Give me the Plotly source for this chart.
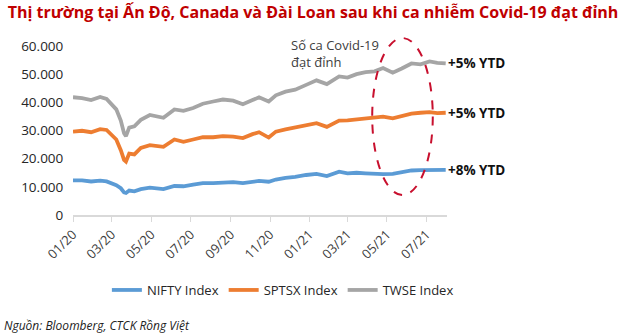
import plotly.graph_objects as go

dates = [
    "2020-01-01", "2020-01-15", "2020-01-29", "2020-02-12", "2020-02-22",
    "2020-03-01", "2020-03-08", "2020-03-15", "2020-03-20", "2020-03-23",
    "2020-03-28", "2020-04-05", "2020-04-15", "2020-04-29", "2020-05-10",
    "2020-05-20", "2020-06-06", "2020-06-20", "2020-07-05", "2020-07-20",
    "2020-08-05", "2020-08-20", "2020-09-05", "2020-09-20", "2020-10-05",
    "2020-10-15", "2020-10-30", "2020-11-10", "2020-11-25", "2020-12-10",
    "2020-12-27", "2021-01-12", "2021-01-28", "2021-02-16", "2021-03-01",
    "2021-03-15", "2021-03-29", "2021-04-12", "2021-04-25", "2021-05-10",
    "2021-05-24", "2021-06-08", "2021-06-22", "2021-07-06", "2021-07-18",
    "2021-07-31",
]
twse = [
    41800, 41500, 40800, 41900, 41200, 39000, 37500, 33500, 29000, 28000,
    31000, 31500, 33800, 35500, 35000, 34500, 37500, 37000, 38000, 39500,
    40300, 41000, 40600, 39300, 40800, 41800, 40300, 42500, 43800, 44500,
    46200, 47800, 46500, 49200, 48800, 50000, 50700, 51000, 52200, 50500,
    52000, 53800, 53500, 54500, 54000, 53800,
]
sptsx = [
    29600, 29900, 29400, 30500, 30200, 28500, 26800, 23000, 19600, 19000,
    21800, 21500, 23800, 24800, 24600, 24200, 26800, 26000, 26800, 27600,
    27600, 28000, 27800, 27300, 28700, 29400, 27500, 29600, 30400, 31000,
    32000, 32600, 31300, 33500, 33600, 34000, 34400, 34800, 34900, 34300,
    35000, 36000, 36300, 36500, 36200, 36300,
]
nifty = [
    12300, 12300, 11900, 12200, 11900, 11200, 10600, 9500, 8000, 7800,
    8700, 8400, 9200, 9700, 9400, 9200, 10300, 10200, 10800, 11300,
    11300, 11600, 11700, 11300, 11900, 12100, 11800, 12600, 13200, 13500,
    14200, 14600, 13800, 15400, 14800, 15000, 14800, 14600, 14500, 14600,
    15200, 15800, 15900, 16000, 16000, 16000,
]
series_names = ["NIFTY Index", "SPTSX Index", "TWSE Index"]
series_colors = ["#5B9BD5", "#ED7D31", "#A5A5A5"]
end_labels = ["+8% YTD", "+5% YTD", "+5% YTD"]
title_text = "Thị trường tại Ấn Độ, Canada và Đài Loan sau khi ca nhiễm Covid-19 đạt đỉnh"
source_text = "Nguồn: Bloomberg, CTCK Rồng Việt"
note_text = "Số ca Covid-19<br>đạt đỉnh"

fig = go.Figure()
all_vals = [nifty, sptsx, twse]
for name, vals, col in zip(series_names, all_vals, series_colors):
    fig.add_trace(go.Scatter(x=dates, y=vals, name=name, mode="lines",
                             line=dict(color=col, width=3.8)))

for vals, lab in zip(all_vals, end_labels):
    fig.add_annotation(x=dates[-1], y=vals[-1], text=lab, showarrow=False,
                       xanchor="left", yanchor="middle", xshift=0,
                       font=dict(family="Open Sans", size=13.5, color="#111111", weight="bold"))

fig.add_annotation(x=-0.19, y=-0.651, xref="paper", yref="paper", text=source_text,
                   showarrow=False, xanchor="left", yanchor="middle",
                   font=dict(family="Open Sans", size=12, color="#222222", style="italic"))

fig.add_annotation(x=0.578, y=0.953, xref="paper", yref="paper", text=note_text,
                   showarrow=False, xanchor="left", yanchor="middle", align="left",
                   font=dict(family="Open Sans", size=13, color="#404040"))

fig.add_shape(type="circle", xref="paper", yref="paper", x0=0.80, x1=0.962,
              y0=0.118, y1=1.047, line=dict(color="#C8102E", width=2, dash="dash"))

fig.update_layout(
    width=640, height=336,
    margin=dict(l=73, r=193, t=46, b=121),
    paper_bgcolor="white", plot_bgcolor="white",
    separators=",.",
    showlegend=True,
    title=dict(text=title_text, x=0.012, xref="container", xanchor="left",
               y=1 - 12 / 336, yref="container", yanchor="middle",
               font=dict(family="Open Sans", size=16, color="#C00000", weight="bold")),
    legend=dict(orientation="h", x=0.442, xref="container", xanchor="center",
                y=1 - 290 / 336, yref="container", yanchor="middle",
                font=dict(family="Open Sans", size=13, color="#262626"),
                itemwidth=30, traceorder="normal"),
    xaxis=dict(type="date", range=["2020-01-01", "2021-08-02"],
               tickformat="%m/%y", dtick="M2", tick0="2020-01-01",
               tickangle=-45, showgrid=False, zeroline=False,
               showline=True, linecolor="#D9D9D9", linewidth=1.5,
               ticks="outside", ticklen=5, tickcolor="#D9D9D9",
               tickfont=dict(family="Open Sans", size=13, color="#404040")),
    yaxis=dict(range=[0, 60000], dtick=10000, tickformat=",d",
               showgrid=False, zeroline=False, showline=False,
               ticks="outside", ticklen=6, tickcolor="white",
               tickfont=dict(family="Open Sans", size=13.5, color="#262626")),
)

fig.write_html("out.html")
